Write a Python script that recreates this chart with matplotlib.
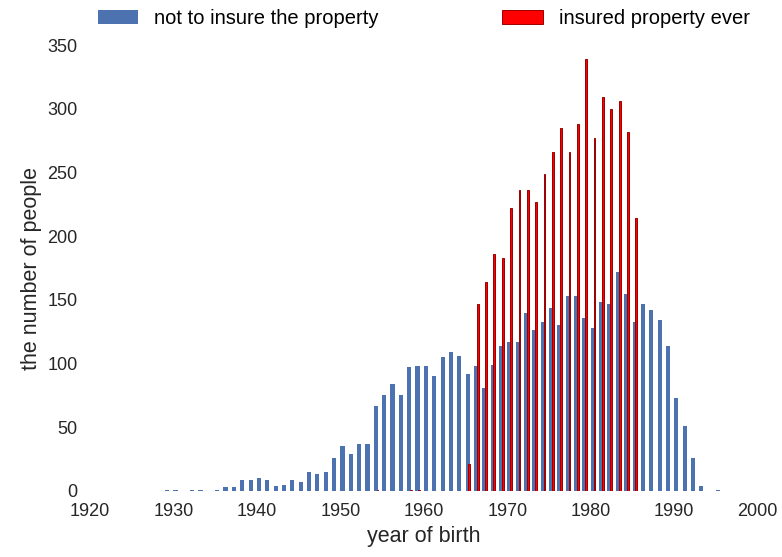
import matplotlib
matplotlib.use('Agg')
import matplotlib.pyplot as plt

plt.rcParams['font.family'] = ['Liberation Sans', 'DejaVu Sans']

# people who never insured the property, by year of birth
years_no = list(range(1929, 1996))
count_no = [1, 1, 0, 1, 1, 0, 1, 3, 3, 9,
            9, 10, 9, 4, 5, 9, 7, 15, 13, 15,
            26, 35, 29, 37, 37, 67, 75, 84, 75, 97,
            98, 98, 90, 105, 109, 106, 92, 98, 81, 99,
            114, 117, 117, 140, 126, 133, 144, 130, 153, 153,
            136, 128, 148, 147, 172, 155, 133, 147, 142, 134,
            114, 73, 51, 26, 4, 0, 1]

# people who insured the property at some point
years_yes = [1954, 1958, 1959, 1965, 1966, 1967, 1968, 1969, 1970, 1971,
             1972, 1973, 1974, 1975, 1976, 1977, 1978, 1979, 1980, 1981,
             1982, 1983, 1984, 1985]
count_yes = [1, 1, 1, 21, 147, 164, 186, 183, 222, 236,
             236, 227, 249, 266, 285, 266, 288, 339, 277, 309,
             300, 306, 282, 214]

fig = plt.figure(figsize=(7.82, 5.57), dpi=100)
ax = fig.add_axes([0.115, 0.1185, 0.854, 0.8005])

ax.bar([y + 0.25 for y in years_no], count_no, width=0.5,
       color='#4c72b0', label='not to insure the property')
ax.bar([y + 0.45 for y in years_yes], count_yes, width=0.22,
       facecolor='red', edgecolor='#9b0000', linewidth=0.7,
       label='insured property ever')

ax.set_xlim(1920, 2000)
ax.set_ylim(0, 350)
ax.set_xticks(range(1920, 2001, 10))
ax.set_yticks(range(0, 351, 50))
for s in ax.spines.values():
    s.set_visible(False)
ax.tick_params(length=0, labelsize=13, colors='#262626', pad=9)
ax.set_xlabel('year of birth', fontsize=15.5, color='#262626')
ax.set_ylabel('the number of people', fontsize=15.5, color='#262626')

ax.legend(bbox_to_anchor=(0., 1.02, 1., .102), loc='lower left', ncol=2,
          mode='expand', borderaxespad=0., frameon=False, fontsize=14.5)

fig.savefig('out.png', dpi=100)
